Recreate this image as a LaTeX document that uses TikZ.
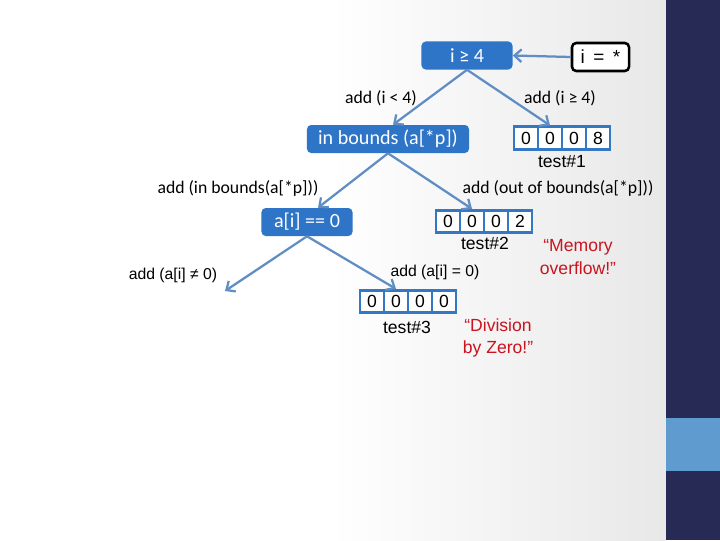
\documentclass[tikz,border=0pt]{standalone}
\usepackage{fontspec}
\setmainfont{Carlito}
\newfontfamily\arial{Liberation Sans}
\usetikzlibrary{arrows.meta}
\definecolor{nodeblue}{RGB}{46,117,199}
\definecolor{cellblue}{RGB}{52,120,195}
\definecolor{linkblue}{RGB}{96,142,196}
\definecolor{navy}{RGB}{38,42,84}
\definecolor{sideblue}{RGB}{96,155,207}
\definecolor{bggray}{RGB}{232,232,232}
\definecolor{alertred}{RGB}{200,20,30}
\tikzset{
  bluebox/.style={fill=nodeblue, rounded corners=3pt, text=white, inner sep=0pt,
    minimum height=0.7cm, font=\fontsize{14.3}{16}\selectfont},
  starbox/.style={draw=black, line width=1.8pt, fill=white, rounded corners=3pt, inner sep=0pt,
    minimum width=1.425cm, minimum height=0.7cm, font=\arial\fontsize{13.5}{15}\selectfont},
  cell/.style={draw=cellblue, line width=2pt, fill=white, inner sep=0pt,
    minimum width=0.6cm, minimum height=0.56cm, font=\arial\fontsize{12.5}{14}\selectfont},
  lbl/.style={inner sep=0pt, font=\fontsize{12.6}{14}\selectfont},
  albl/.style={inner sep=0pt, font=\arial\fontsize{11.2}{13}\selectfont},
  tst/.style={inner sep=0pt, font=\arial\fontsize{12.5}{14}\selectfont},
  alert/.style={inner sep=0pt, align=center, text=alertred, font=\arial\fontsize{12.5}{16}\selectfont},
  conn/.style={draw=linkblue, line width=1.6pt, -{Straight Barb[length=5pt,width=9pt,line width=1.6pt]}}
}
\begin{document}
\begin{tikzpicture}[x=0.025cm,y=-0.025cm]
\useasboundingbox (0,0) rectangle (720,540);
% background
\fill[white] (0,0) rectangle (666,540);
\shade[left color=white, right color=bggray] (330,0) rectangle (666,540);
\fill[navy] (666,0) rectangle (720,540);
\fill[sideblue] (666,418) rectangle (720,471);

% decision nodes
\node[bluebox, minimum width=2.275cm] (ige) at (467,55.5) {i ≥ 4};
\node[starbox] (istar) at (600.5,57) {i\, =\, *};
\node[bluebox, minimum width=4.05cm] (inb) at (388,139) {in bounds (a[*p])};
\node[bluebox, minimum width=2.275cm] (aeq) at (307,222) {a[i] == 0};

% test case boxes
\foreach \d [count=\k] in {0,0,0,8} \node[cell] (ta\k) at (502+24*\k,138) {\d};
\foreach \d [count=\k] in {0,0,0,2} \node[cell] (tb\k) at (424+24*\k,221.5) {\d};
\foreach \d [count=\k] in {0,0,0,0} \node[cell] (tc\k) at (348+24*\k,301.5) {\d};

\node[tst] (t1) at (562,162) {test\#1};
\node[tst] (t2) at (485,243) {test\#2};
\node[tst] (t3) at (407,327) {test\#3};

\node[alert] (mem) at (578,257) {“Memory\\overflow!”};
\node[alert] (div) at (498,338) {“Division\\by Zero!”};

% edge labels
\node[lbl] (l1) at (381,98) {add (i < 4)};
\node[lbl] (l2) at (560,98) {add (i ≥ 4)};
\node[lbl] (l3) at (238,188) {add (in bounds(a[*p]))};
\node[lbl] (l4) at (558,188) {add (out of bounds(a[*p]))};
\node[albl] (l5) at (173,275) {add (a[i] ≠ 0)};
\node[albl] (l6) at (435,272) {add (a[i] = 0)};

\coordinate (free) at (225,291);

% connectors
\draw[conn] (istar.west) -- (ige.east);
\draw[conn] (ige.south) -- ([xshift=5*0.025cm]inb.north);
\draw[conn] (ige.south) -- (ta2.north);
\draw[conn] (inb.south) -- ([xshift=11*0.025cm]aeq.north);
\draw[conn] (inb.south) -- (tb2.north);
\draw[conn] (aeq.south) -- (free);
\draw[conn] (aeq.south) -- (tc2.north);
\end{tikzpicture}
\end{document}
